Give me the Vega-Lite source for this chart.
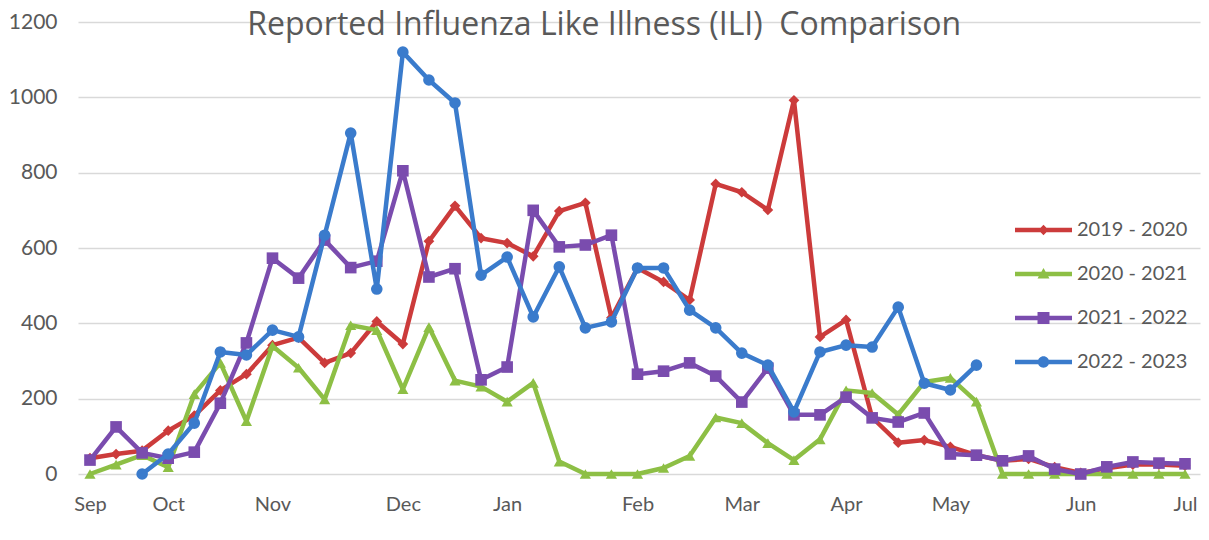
{
  "$schema": "https://vega.github.io/schema/vega-lite/v6.json",
  "width": 1122,
  "height": 452,
  "autosize": {"type": "none"},
  "padding": {"left": 78, "top": 22, "right": 9, "bottom": 66},
  "background": "white",
  "title": {
    "text": "Reported Influenza Like Illness (ILI)\u00a0 Comparison",
    "font": "Open Sans", "fontSize": 32, "fontWeight": "normal", "color": "#595959",
    "anchor": "middle", "frame": "bounds", "baseline": "alphabetic", "offset": -56
  },
  "config": {"view": {"stroke": null}},
  "datasets": {
    "ili": [
      {"week":0,"season":"2019 - 2020","value":42},{"week":1,"season":"2019 - 2020","value":53},{"week":2,"season":"2019 - 2020","value":62},{"week":3,"season":"2019 - 2020","value":115},{"week":4,"season":"2019 - 2020","value":155},{"week":5,"season":"2019 - 2020","value":222},{"week":6,"season":"2019 - 2020","value":265},{"week":7,"season":"2019 - 2020","value":342},{"week":8,"season":"2019 - 2020","value":362},{"week":9,"season":"2019 - 2020","value":295},{"week":10,"season":"2019 - 2020","value":321},{"week":11,"season":"2019 - 2020","value":405},{"week":12,"season":"2019 - 2020","value":345},{"week":13,"season":"2019 - 2020","value":618},{"week":14,"season":"2019 - 2020","value":712},{"week":15,"season":"2019 - 2020","value":626},{"week":16,"season":"2019 - 2020","value":613},{"week":17,"season":"2019 - 2020","value":578},{"week":18,"season":"2019 - 2020","value":698},{"week":19,"season":"2019 - 2020","value":720},{"week":20,"season":"2019 - 2020","value":415},{"week":21,"season":"2019 - 2020","value":547},{"week":22,"season":"2019 - 2020","value":510},{"week":23,"season":"2019 - 2020","value":462},{"week":24,"season":"2019 - 2020","value":770},{"week":25,"season":"2019 - 2020","value":748},{"week":26,"season":"2019 - 2020","value":701},{"week":27,"season":"2019 - 2020","value":992},{"week":28,"season":"2019 - 2020","value":364},{"week":29,"season":"2019 - 2020","value":409},{"week":30,"season":"2019 - 2020","value":150},{"week":31,"season":"2019 - 2020","value":83},{"week":32,"season":"2019 - 2020","value":90},{"week":33,"season":"2019 - 2020","value":72},{"week":34,"season":"2019 - 2020","value":50},{"week":35,"season":"2019 - 2020","value":35},{"week":36,"season":"2019 - 2020","value":40},{"week":37,"season":"2019 - 2020","value":18},{"week":38,"season":"2019 - 2020","value":3},{"week":39,"season":"2019 - 2020","value":15},{"week":40,"season":"2019 - 2020","value":25},{"week":41,"season":"2019 - 2020","value":25},{"week":42,"season":"2019 - 2020","value":22},
      {"week":0,"season":"2020 - 2021","value":0},{"week":1,"season":"2020 - 2021","value":25},{"week":2,"season":"2020 - 2021","value":50},{"week":3,"season":"2020 - 2021","value":18},{"week":4,"season":"2020 - 2021","value":212},{"week":5,"season":"2020 - 2021","value":295},{"week":6,"season":"2020 - 2021","value":140},{"week":7,"season":"2020 - 2021","value":340},{"week":8,"season":"2020 - 2021","value":282},{"week":9,"season":"2020 - 2021","value":198},{"week":10,"season":"2020 - 2021","value":395},{"week":11,"season":"2020 - 2021","value":382},{"week":12,"season":"2020 - 2021","value":225},{"week":13,"season":"2020 - 2021","value":390},{"week":14,"season":"2020 - 2021","value":248},{"week":15,"season":"2020 - 2021","value":232},{"week":16,"season":"2020 - 2021","value":192},{"week":17,"season":"2020 - 2021","value":242},{"week":18,"season":"2020 - 2021","value":33},{"week":19,"season":"2020 - 2021","value":0},{"week":20,"season":"2020 - 2021","value":0},{"week":21,"season":"2020 - 2021","value":0},{"week":22,"season":"2020 - 2021","value":16},{"week":23,"season":"2020 - 2021","value":48},{"week":24,"season":"2020 - 2021","value":150},{"week":25,"season":"2020 - 2021","value":135},{"week":26,"season":"2020 - 2021","value":82},{"week":27,"season":"2020 - 2021","value":37},{"week":28,"season":"2020 - 2021","value":92},{"week":29,"season":"2020 - 2021","value":222},{"week":30,"season":"2020 - 2021","value":215},{"week":31,"season":"2020 - 2021","value":158},{"week":32,"season":"2020 - 2021","value":244},{"week":33,"season":"2020 - 2021","value":255},{"week":34,"season":"2020 - 2021","value":192},{"week":35,"season":"2020 - 2021","value":0},{"week":36,"season":"2020 - 2021","value":0},{"week":37,"season":"2020 - 2021","value":0},{"week":38,"season":"2020 - 2021","value":0},{"week":39,"season":"2020 - 2021","value":0},{"week":40,"season":"2020 - 2021","value":0},{"week":41,"season":"2020 - 2021","value":0},{"week":42,"season":"2020 - 2021","value":0},
      {"week":0,"season":"2021 - 2022","value":37},{"week":1,"season":"2021 - 2022","value":125},{"week":2,"season":"2021 - 2022","value":56},{"week":3,"season":"2021 - 2022","value":42},{"week":4,"season":"2021 - 2022","value":58},{"week":5,"season":"2021 - 2022","value":188},{"week":6,"season":"2021 - 2022","value":348},{"week":7,"season":"2021 - 2022","value":573},{"week":8,"season":"2021 - 2022","value":520},{"week":9,"season":"2021 - 2022","value":621},{"week":10,"season":"2021 - 2022","value":548},{"week":11,"season":"2021 - 2022","value":565},{"week":12,"season":"2021 - 2022","value":805},{"week":13,"season":"2021 - 2022","value":523},{"week":14,"season":"2021 - 2022","value":545},{"week":15,"season":"2021 - 2022","value":250},{"week":16,"season":"2021 - 2022","value":284},{"week":17,"season":"2021 - 2022","value":700},{"week":18,"season":"2021 - 2022","value":603},{"week":19,"season":"2021 - 2022","value":608},{"week":20,"season":"2021 - 2022","value":634},{"week":21,"season":"2021 - 2022","value":265},{"week":22,"season":"2021 - 2022","value":273},{"week":23,"season":"2021 - 2022","value":295},{"week":24,"season":"2021 - 2022","value":260},{"week":25,"season":"2021 - 2022","value":191},{"week":26,"season":"2021 - 2022","value":281},{"week":27,"season":"2021 - 2022","value":157},{"week":28,"season":"2021 - 2022","value":157},{"week":29,"season":"2021 - 2022","value":204},{"week":30,"season":"2021 - 2022","value":149},{"week":31,"season":"2021 - 2022","value":138},{"week":32,"season":"2021 - 2022","value":162},{"week":33,"season":"2021 - 2022","value":53},{"week":34,"season":"2021 - 2022","value":50},{"week":35,"season":"2021 - 2022","value":35},{"week":36,"season":"2021 - 2022","value":48},{"week":37,"season":"2021 - 2022","value":13},{"week":38,"season":"2021 - 2022","value":0},{"week":39,"season":"2021 - 2022","value":19},{"week":40,"season":"2021 - 2022","value":32},{"week":41,"season":"2021 - 2022","value":29},{"week":42,"season":"2021 - 2022","value":27},
      {"week":2,"season":"2022 - 2023","value":0},{"week":3,"season":"2022 - 2023","value":53},{"week":4,"season":"2022 - 2023","value":135},{"week":5,"season":"2022 - 2023","value":324},{"week":6,"season":"2022 - 2023","value":316},{"week":7,"season":"2022 - 2023","value":382},{"week":8,"season":"2022 - 2023","value":364},{"week":9,"season":"2022 - 2023","value":634},{"week":10,"season":"2022 - 2023","value":905},{"week":11,"season":"2022 - 2023","value":491},{"week":12,"season":"2022 - 2023","value":1120},{"week":13,"season":"2022 - 2023","value":1046},{"week":14,"season":"2022 - 2023","value":985},{"week":15,"season":"2022 - 2023","value":528},{"week":16,"season":"2022 - 2023","value":576},{"week":17,"season":"2022 - 2023","value":417},{"week":18,"season":"2022 - 2023","value":550},{"week":19,"season":"2022 - 2023","value":388},{"week":20,"season":"2022 - 2023","value":404},{"week":21,"season":"2022 - 2023","value":547},{"week":22,"season":"2022 - 2023","value":547},{"week":23,"season":"2022 - 2023","value":435},{"week":24,"season":"2022 - 2023","value":388},{"week":25,"season":"2022 - 2023","value":321},{"week":26,"season":"2022 - 2023","value":289},{"week":27,"season":"2022 - 2023","value":165},{"week":28,"season":"2022 - 2023","value":324},{"week":29,"season":"2022 - 2023","value":342},{"week":30,"season":"2022 - 2023","value":337},{"week":31,"season":"2022 - 2023","value":443},{"week":32,"season":"2022 - 2023","value":241},{"week":33,"season":"2022 - 2023","value":223},{"week":34,"season":"2022 - 2023","value":289}
    ]
  },
  "data": {"name": "ili"},
  "encoding": {
    "x": {
      "field": "week", "type": "quantitative",
      "scale": {"domain": [-0.46, 42.575], "nice": false, "zero": false},
      "axis": {
        "title": null, "grid": false, "domain": false, "ticks": false,
        "values": [0, 3, 7, 12, 16, 21, 25, 29, 33, 38, 42],
        "labelExpr": "['Sep','Oct','Nov','Dec','Jan','Feb','Mar','Apr','May','Jun','Jul'][indexof([0,3,7,12,16,21,25,29,33,38,42], datum.value)]",
        "labelFont": "Lato", "labelFontSize": 20, "labelColor": "#595959",
        "labelPadding": 20, "labelOverlap": false
      }
    },
    "y": {
      "field": "value", "type": "quantitative",
      "scale": {"domain": [0, 1200], "nice": false},
      "axis": {
        "title": null, "values": [0, 200, 400, 600, 800, 1000, 1200], "format": "d",
        "grid": true, "gridColor": "#D9D9D9", "gridWidth": 1.5,
        "domain": false, "ticks": false,
        "labelFont": "Lato", "labelFontSize": 21, "labelColor": "#595959",
        "labelPadding": 21
      }
    },
    "color": {
      "field": "season", "type": "nominal",
      "scale": {
        "domain": ["2019 - 2020", "2020 - 2021", "2021 - 2022", "2022 - 2023"],
        "range": ["#CC3B3B", "#8DBF45", "#7A4CAE", "#3A7BCC"]
      },
      "legend": {
        "title": null, "orient": "none", "legendX": 937, "legendY": 198,
        "labelFont": "Lato", "labelFontSize": 20, "labelColor": "#595959",
        "labelOffset": 5, "symbolSize": 3249, "clipHeight": 20, "rowPadding": 24,
        "encode": {
          "symbols": {
            "update": {
              "shape": {"signal": "datum.value === '2019 - 2020' ? 'M-1,-0.08L1,-0.08L1,0.08L-1,0.08Z M0,-0.18L0.18,0L0,0.18L-0.18,0Z' : datum.value === '2020 - 2021' ? 'M-1,-0.08L1,-0.08L1,0.08L-1,0.08Z M0,-0.21L0.21,0.16L-0.21,0.16Z' : datum.value === '2021 - 2022' ? 'M-1,-0.08L1,-0.08L1,0.08L-1,0.08Z M-0.21,-0.21L0.21,-0.21L0.21,0.21L-0.21,0.21Z' : 'M-1,-0.08L1,-0.08L1,0.08L-1,0.08Z M-0.2,0A0.2,0.2 0 1,1 0.2,0A0.2,0.2 0 1,1 -0.2,0Z'"},
              "size": {"value": 3249},
              "fill": {"signal": "scale('color', datum.value)"},
              "fillOpacity": {"value": 1},
              "stroke": {"value": "transparent"},
              "strokeWidth": {"value": 0},
              "opacity": {"value": 1}
            }
          }
        }
      }
    }
  },
  "layer": [
    {"transform": [{"filter": "datum.season === '2019 - 2020'"}], "mark": {"type": "line", "strokeWidth": 4.5, "strokeJoin": "round"}},
    {"transform": [{"filter": "datum.season === '2019 - 2020'"}], "mark": {"type": "point", "shape": "diamond", "filled": true, "opacity": 1, "size": 115}},
    {"transform": [{"filter": "datum.season === '2020 - 2021'"}], "mark": {"type": "line", "strokeWidth": 4.5, "strokeJoin": "round"}},
    {"transform": [{"filter": "datum.season === '2020 - 2021'"}], "mark": {"type": "point", "shape": "triangle-up", "filled": true, "opacity": 1, "size": 125}},
    {"transform": [{"filter": "datum.season === '2021 - 2022'"}], "mark": {"type": "line", "strokeWidth": 4.5, "strokeJoin": "round"}},
    {"transform": [{"filter": "datum.season === '2021 - 2022'"}], "mark": {"type": "point", "shape": "square", "filled": true, "opacity": 1, "size": 135}},
    {"transform": [{"filter": "datum.season === '2022 - 2023'"}], "mark": {"type": "line", "strokeWidth": 4.5, "strokeJoin": "round"}},
    {"transform": [{"filter": "datum.season === '2022 - 2023'"}], "mark": {"type": "point", "shape": "circle", "filled": true, "opacity": 1, "size": 135}}
  ]
}
